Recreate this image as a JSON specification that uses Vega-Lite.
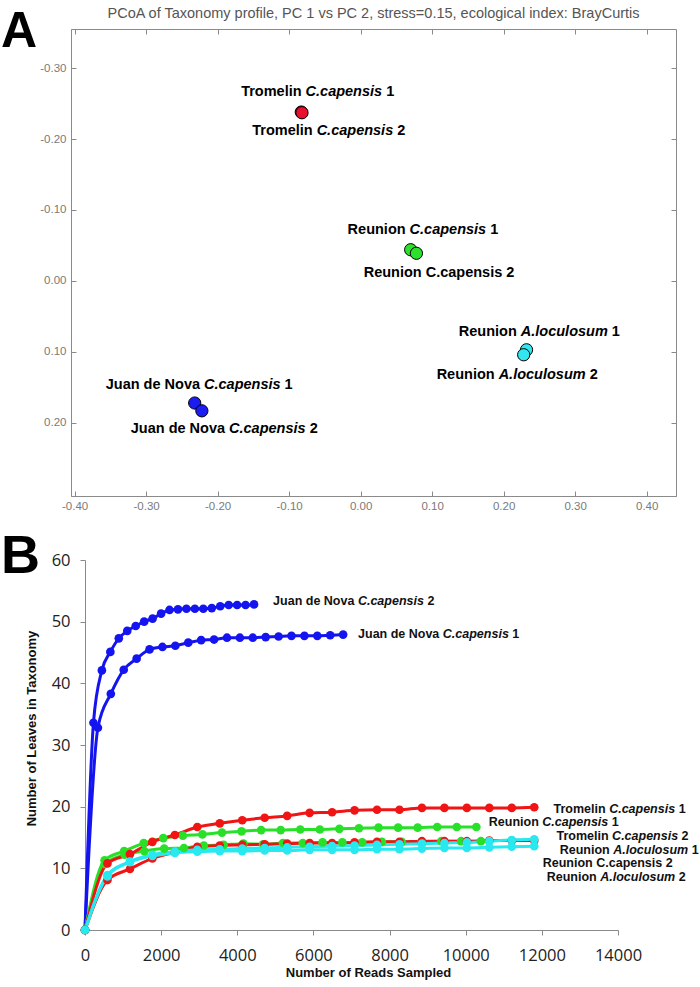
{
  "$schema": "https://vega.github.io/schema/vega-lite/v6.json",
  "padding": {"top": 5, "left": 0, "right": 0, "bottom": 0},
  "spacing": 18,
  "background": "white",
  "config": {"view": {"stroke": null}, "font": "Liberation Sans"},
  "datasets": {
    "pcoa": [
      {"sample": "Tromelin C.capensis 1", "group": "Tromelin C.capensis", "site": "Tromelin", "species": "C.capensis", "rep": "1", "italic": true, "pc1": -0.083, "pc2": -0.238, "label_pc1": -0.077, "label_pc2": -0.266},
      {"sample": "Tromelin C.capensis 2", "group": "Tromelin C.capensis", "site": "Tromelin", "species": "C.capensis", "rep": "2", "italic": true, "pc1": -0.082, "pc2": -0.237, "label_pc1": -0.0615, "label_pc2": -0.211},
      {"sample": "Reunion C.capensis 1", "group": "Reunion C.capensis", "site": "Reunion", "species": "C.capensis", "rep": "1", "italic": true, "pc1": 0.070, "pc2": -0.044, "label_pc1": 0.0685, "label_pc2": -0.072},
      {"sample": "Reunion C.capensis 2", "group": "Reunion C.capensis", "site": "Reunion", "species": "C.capensis", "rep": "2", "italic": false, "pc1": 0.078, "pc2": -0.039, "label_pc1": 0.091, "label_pc2": -0.011},
      {"sample": "Reunion A.loculosum 1", "group": "Reunion A.loculosum", "site": "Reunion", "species": "A.loculosum", "rep": "1", "italic": true, "pc1": 0.232, "pc2": 0.097, "label_pc1": 0.224, "label_pc2": 0.072},
      {"sample": "Reunion A.loculosum 2", "group": "Reunion A.loculosum", "site": "Reunion", "species": "A.loculosum", "rep": "2", "italic": true, "pc1": 0.228, "pc2": 0.104, "label_pc1": 0.193, "label_pc2": 0.132},
      {"sample": "Juan de Nova C.capensis 1", "group": "Juan de Nova C.capensis", "site": "Juan de Nova", "species": "C.capensis", "rep": "1", "italic": true, "pc1": -0.232, "pc2": 0.172, "label_pc1": -0.219, "label_pc2": 0.146},
      {"sample": "Juan de Nova C.capensis 2", "group": "Juan de Nova C.capensis", "site": "Juan de Nova", "species": "C.capensis", "rep": "2", "italic": true, "pc1": -0.222, "pc2": 0.183, "label_pc1": -0.184, "label_pc2": 0.208}
    ],
    "curvelabels": [
      {"series": "J2", "site": "Juan de Nova", "species": "C.capensis", "rep": "2", "italic": true, "label_reads": 7168, "label_leaves": 53.3},
      {"series": "J1", "site": "Juan de Nova", "species": "C.capensis", "rep": "1", "italic": true, "label_reads": 9399, "label_leaves": 48.0},
      {"series": "T1", "site": "Tromelin", "species": "C.capensis", "rep": "1", "italic": true, "label_reads": 13767, "label_leaves": 19.6},
      {"series": "R1", "site": "Reunion", "species": "C.capensis", "rep": "1", "italic": true, "label_reads": 12011, "label_leaves": 17.5},
      {"series": "T2", "site": "Tromelin", "species": "C.capensis", "rep": "2", "italic": true, "label_reads": 13845, "label_leaves": 15.2},
      {"series": "A1", "site": "Reunion", "species": "A.loculosum", "rep": "1", "italic": true, "label_reads": 13874, "label_leaves": 12.9},
      {"series": "R2", "site": "Reunion", "species": "C.capensis", "rep": "2", "italic": false, "label_reads": 13428, "label_leaves": 10.9},
      {"series": "A2", "site": "Reunion", "species": "A.loculosum", "rep": "2", "italic": true, "label_reads": 13533, "label_leaves": 8.6}
    ],
    "curves": [
      {"series": "J2", "reads": 0, "leaves": 0}, {"series": "J2", "reads": 222, "leaves": 33.6}, {"series": "J2", "reads": 444, "leaves": 42.1}, {"series": "J2", "reads": 666, "leaves": 45.1}, {"series": "J2", "reads": 888, "leaves": 47.3}, {"series": "J2", "reads": 1110, "leaves": 48.5}, {"series": "J2", "reads": 1332, "leaves": 49.3}, {"series": "J2", "reads": 1554, "leaves": 50.0}, {"series": "J2", "reads": 1776, "leaves": 50.5}, {"series": "J2", "reads": 1998, "leaves": 51.3}, {"series": "J2", "reads": 2220, "leaves": 51.9}, {"series": "J2", "reads": 2442, "leaves": 52.0}, {"series": "J2", "reads": 2664, "leaves": 52.1}, {"series": "J2", "reads": 2886, "leaves": 52.1}, {"series": "J2", "reads": 3108, "leaves": 52.1}, {"series": "J2", "reads": 3330, "leaves": 52.2}, {"series": "J2", "reads": 3552, "leaves": 52.5}, {"series": "J2", "reads": 3774, "leaves": 52.7}, {"series": "J2", "reads": 3996, "leaves": 52.7}, {"series": "J2", "reads": 4218, "leaves": 52.7}, {"series": "J2", "reads": 4440, "leaves": 52.8},
      {"series": "J1", "reads": 0, "leaves": 0}, {"series": "J1", "reads": 339, "leaves": 32.8}, {"series": "J1", "reads": 678, "leaves": 38.3}, {"series": "J1", "reads": 1017, "leaves": 42.2}, {"series": "J1", "reads": 1356, "leaves": 44.0}, {"series": "J1", "reads": 1695, "leaves": 45.5}, {"series": "J1", "reads": 2034, "leaves": 45.9}, {"series": "J1", "reads": 2373, "leaves": 46.1}, {"series": "J1", "reads": 2712, "leaves": 46.6}, {"series": "J1", "reads": 3051, "leaves": 47.0}, {"series": "J1", "reads": 3390, "leaves": 47.1}, {"series": "J1", "reads": 3729, "leaves": 47.4}, {"series": "J1", "reads": 4068, "leaves": 47.4}, {"series": "J1", "reads": 4407, "leaves": 47.4}, {"series": "J1", "reads": 4746, "leaves": 47.5}, {"series": "J1", "reads": 5085, "leaves": 47.6}, {"series": "J1", "reads": 5424, "leaves": 47.7}, {"series": "J1", "reads": 5763, "leaves": 47.7}, {"series": "J1", "reads": 6102, "leaves": 47.7}, {"series": "J1", "reads": 6441, "leaves": 47.8}, {"series": "J1", "reads": 6780, "leaves": 47.9},
      {"series": "R1", "reads": 0, "leaves": 0}, {"series": "R1", "reads": 514, "leaves": 11.3}, {"series": "R1", "reads": 1028, "leaves": 12.8}, {"series": "R1", "reads": 1542, "leaves": 14.1}, {"series": "R1", "reads": 2056, "leaves": 14.9}, {"series": "R1", "reads": 2570, "leaves": 15.3}, {"series": "R1", "reads": 3084, "leaves": 15.5}, {"series": "R1", "reads": 3598, "leaves": 15.8}, {"series": "R1", "reads": 4112, "leaves": 16.0}, {"series": "R1", "reads": 4626, "leaves": 16.2}, {"series": "R1", "reads": 5140, "leaves": 16.2}, {"series": "R1", "reads": 5654, "leaves": 16.3}, {"series": "R1", "reads": 6168, "leaves": 16.3}, {"series": "R1", "reads": 6682, "leaves": 16.4}, {"series": "R1", "reads": 7196, "leaves": 16.5}, {"series": "R1", "reads": 7710, "leaves": 16.6}, {"series": "R1", "reads": 8224, "leaves": 16.6}, {"series": "R1", "reads": 8738, "leaves": 16.6}, {"series": "R1", "reads": 9252, "leaves": 16.7}, {"series": "R1", "reads": 9766, "leaves": 16.7}, {"series": "R1", "reads": 10280, "leaves": 16.7},
      {"series": "R2", "reads": 0, "leaves": 0}, {"series": "R2", "reads": 520, "leaves": 10.7}, {"series": "R2", "reads": 1040, "leaves": 12.2}, {"series": "R2", "reads": 1560, "leaves": 12.8}, {"series": "R2", "reads": 2080, "leaves": 13.2}, {"series": "R2", "reads": 2600, "leaves": 13.3}, {"series": "R2", "reads": 3120, "leaves": 13.7}, {"series": "R2", "reads": 3640, "leaves": 13.8}, {"series": "R2", "reads": 4160, "leaves": 14.0}, {"series": "R2", "reads": 4680, "leaves": 13.9}, {"series": "R2", "reads": 5200, "leaves": 14.1}, {"series": "R2", "reads": 5720, "leaves": 14.1}, {"series": "R2", "reads": 6240, "leaves": 14.2}, {"series": "R2", "reads": 6760, "leaves": 14.2}, {"series": "R2", "reads": 7280, "leaves": 14.2}, {"series": "R2", "reads": 7800, "leaves": 14.3}, {"series": "R2", "reads": 8320, "leaves": 14.3}, {"series": "R2", "reads": 8840, "leaves": 14.3}, {"series": "R2", "reads": 9360, "leaves": 14.4}, {"series": "R2", "reads": 9880, "leaves": 14.4}, {"series": "R2", "reads": 10400, "leaves": 14.4},
      {"series": "T1", "reads": 0, "leaves": 0}, {"series": "T1", "reads": 590, "leaves": 10.8}, {"series": "T1", "reads": 1180, "leaves": 12.3}, {"series": "T1", "reads": 1770, "leaves": 14.3}, {"series": "T1", "reads": 2360, "leaves": 15.4}, {"series": "T1", "reads": 2950, "leaves": 16.7}, {"series": "T1", "reads": 3540, "leaves": 17.3}, {"series": "T1", "reads": 4130, "leaves": 17.8}, {"series": "T1", "reads": 4720, "leaves": 18.2}, {"series": "T1", "reads": 5310, "leaves": 18.5}, {"series": "T1", "reads": 5900, "leaves": 19.0}, {"series": "T1", "reads": 6490, "leaves": 19.1}, {"series": "T1", "reads": 7080, "leaves": 19.4}, {"series": "T1", "reads": 7670, "leaves": 19.5}, {"series": "T1", "reads": 8260, "leaves": 19.5}, {"series": "T1", "reads": 8850, "leaves": 19.8}, {"series": "T1", "reads": 9440, "leaves": 19.8}, {"series": "T1", "reads": 10030, "leaves": 19.8}, {"series": "T1", "reads": 10620, "leaves": 19.8}, {"series": "T1", "reads": 11210, "leaves": 19.8}, {"series": "T1", "reads": 11800, "leaves": 19.9},
      {"series": "T2", "reads": 0, "leaves": 0}, {"series": "T2", "reads": 590, "leaves": 8.1}, {"series": "T2", "reads": 1180, "leaves": 9.9}, {"series": "T2", "reads": 1770, "leaves": 11.6}, {"series": "T2", "reads": 2360, "leaves": 12.6}, {"series": "T2", "reads": 2950, "leaves": 13.5}, {"series": "T2", "reads": 3540, "leaves": 13.7}, {"series": "T2", "reads": 4130, "leaves": 13.8}, {"series": "T2", "reads": 4720, "leaves": 13.9}, {"series": "T2", "reads": 5310, "leaves": 14.0}, {"series": "T2", "reads": 5900, "leaves": 14.1}, {"series": "T2", "reads": 6490, "leaves": 14.1}, {"series": "T2", "reads": 7080, "leaves": 14.2}, {"series": "T2", "reads": 7670, "leaves": 14.3}, {"series": "T2", "reads": 8260, "leaves": 14.3}, {"series": "T2", "reads": 8850, "leaves": 14.4}, {"series": "T2", "reads": 9440, "leaves": 14.4}, {"series": "T2", "reads": 10030, "leaves": 14.4}, {"series": "T2", "reads": 10620, "leaves": 14.5}, {"series": "T2", "reads": 11210, "leaves": 14.5}, {"series": "T2", "reads": 11800, "leaves": 14.5},
      {"series": "A1", "reads": 0, "leaves": 0}, {"series": "A1", "reads": 590, "leaves": 8.9}, {"series": "A1", "reads": 1180, "leaves": 11.1}, {"series": "A1", "reads": 1770, "leaves": 12.2}, {"series": "A1", "reads": 2360, "leaves": 12.7}, {"series": "A1", "reads": 2950, "leaves": 13.0}, {"series": "A1", "reads": 3540, "leaves": 13.1}, {"series": "A1", "reads": 4130, "leaves": 13.2}, {"series": "A1", "reads": 4720, "leaves": 13.3}, {"series": "A1", "reads": 5310, "leaves": 13.4}, {"series": "A1", "reads": 5900, "leaves": 13.5}, {"series": "A1", "reads": 6490, "leaves": 13.6}, {"series": "A1", "reads": 7080, "leaves": 13.7}, {"series": "A1", "reads": 7670, "leaves": 13.8}, {"series": "A1", "reads": 8260, "leaves": 13.9}, {"series": "A1", "reads": 8850, "leaves": 14.0}, {"series": "A1", "reads": 9440, "leaves": 14.1}, {"series": "A1", "reads": 10030, "leaves": 14.2}, {"series": "A1", "reads": 10620, "leaves": 14.4}, {"series": "A1", "reads": 11210, "leaves": 14.6}, {"series": "A1", "reads": 11800, "leaves": 14.7},
      {"series": "A2", "reads": 0, "leaves": 0}, {"series": "A2", "reads": 590, "leaves": 8.7}, {"series": "A2", "reads": 1180, "leaves": 11.0}, {"series": "A2", "reads": 1770, "leaves": 12.0}, {"series": "A2", "reads": 2360, "leaves": 12.5}, {"series": "A2", "reads": 2950, "leaves": 12.7}, {"series": "A2", "reads": 3540, "leaves": 12.8}, {"series": "A2", "reads": 4130, "leaves": 12.8}, {"series": "A2", "reads": 4720, "leaves": 12.9}, {"series": "A2", "reads": 5310, "leaves": 12.9}, {"series": "A2", "reads": 5900, "leaves": 13.0}, {"series": "A2", "reads": 6490, "leaves": 13.0}, {"series": "A2", "reads": 7080, "leaves": 13.0}, {"series": "A2", "reads": 7670, "leaves": 13.1}, {"series": "A2", "reads": 8260, "leaves": 13.1}, {"series": "A2", "reads": 8850, "leaves": 13.2}, {"series": "A2", "reads": 9440, "leaves": 13.3}, {"series": "A2", "reads": 10030, "leaves": 13.3}, {"series": "A2", "reads": 10620, "leaves": 13.4}, {"series": "A2", "reads": 11210, "leaves": 13.5}, {"series": "A2", "reads": 11800, "leaves": 13.6}
    ]
  },
  "vconcat": [
    {
      "width": 605,
      "height": 467,
      "view": {"stroke": "#8a8a8a", "strokeWidth": 1},
      "data": {"name": "pcoa"},
      "resolve": {"axis": {"x": "independent", "y": "independent"}},
      "layer": [
        {
          "mark": {"type": "point", "filled": true, "size": 150, "stroke": "black", "strokeWidth": 1, "opacity": 1},
          "encoding": {
            "x": {"field": "pc1", "type": "quantitative", "scale": {"domain": [-0.405, 0.441], "nice": false, "zero": false},
                  "axis": {"orient": "bottom", "values": [-0.4, -0.3, -0.2, -0.1, 0, 0.1, 0.2, 0.3, 0.4], "labelExpr": "replace(format(datum.value, '.2f'), '\u2212', '-')", "title": null, "grid": false, "domainColor": "#8a8a8a", "tickColor": "#8a8a8a", "tickSize": -5, "labelPadding": 9, "labelColor": "#7a7a7a", "labelFont": "Liberation Sans", "labelFontSize": 11.5, "labelFlush": false}},
            "y": {"field": "pc2", "type": "quantitative", "scale": {"domain": [-0.355, 0.303], "nice": false, "zero": false, "reverse": true},
                  "axis": {"orient": "left", "values": [-0.3, -0.2, -0.1, 0, 0.1, 0.2], "labelExpr": "replace(format(datum.value, '.2f'), '\u2212', '-')", "title": null, "grid": false, "domainColor": "#8a8a8a", "tickColor": "#8a8a8a", "tickSize": -5, "labelPadding": 10, "labelColor": "#7a7a7a", "labelFont": "Liberation Sans", "labelFontSize": 11.5}},
            "fill": {"field": "group", "type": "nominal", "scale": {"domain": ["Tromelin C.capensis", "Reunion C.capensis", "Reunion A.loculosum", "Juan de Nova C.capensis"], "range": ["#e8102e", "#2ee02e", "#33e5ee", "#1c1cf0"]}, "legend": null}
          }
        },
        {
          "mark": {"type": "point", "opacity": 0},
          "encoding": {
            "x": {"field": "pc1", "type": "quantitative", "scale": {"domain": [-0.405, 0.441], "nice": false, "zero": false},
                  "axis": {"orient": "top", "values": [-0.4, -0.3, -0.2, -0.1, 0, 0.1, 0.2, 0.3, 0.4], "labels": false, "domain": false, "title": null, "grid": false, "tickColor": "#8a8a8a", "tickSize": -5}},
            "y": {"field": "pc2", "type": "quantitative", "scale": {"domain": [-0.355, 0.303], "nice": false, "zero": false, "reverse": true},
                  "axis": {"orient": "right", "values": [-0.3, -0.2, -0.1, 0, 0.1, 0.2], "labels": false, "domain": false, "title": null, "grid": false, "tickColor": "#8a8a8a", "tickSize": -5}}
          }
        },
        {
          "mark": {"type": "text", "align": "right", "baseline": "middle", "dx": -4, "font": "Liberation Sans", "fontSize": 14.5, "fontWeight": "bold", "color": "black"},
          "encoding": {
            "x": {"field": "label_pc1", "type": "quantitative", "scale": {"domain": [-0.405, 0.441], "nice": false, "zero": false}, "axis": null},
            "y": {"field": "label_pc2", "type": "quantitative", "scale": {"domain": [-0.355, 0.303], "nice": false, "zero": false, "reverse": true}, "axis": null},
            "text": {"field": "site"}
          }
        },
        {
          "transform": [{"filter": "datum.italic"}],
          "mark": {"type": "text", "align": "left", "baseline": "middle", "font": "Liberation Sans", "fontSize": 14.5, "fontWeight": "bold", "fontStyle": "italic", "color": "black"},
          "encoding": {
            "x": {"field": "label_pc1", "type": "quantitative", "scale": {"domain": [-0.405, 0.441], "nice": false, "zero": false}, "axis": null},
            "y": {"field": "label_pc2", "type": "quantitative", "scale": {"domain": [-0.355, 0.303], "nice": false, "zero": false, "reverse": true}, "axis": null},
            "text": {"field": "species"}
          }
        },
        {
          "transform": [{"filter": "!datum.italic"}],
          "mark": {"type": "text", "align": "left", "baseline": "middle", "font": "Liberation Sans", "fontSize": 14.5, "fontWeight": "bold", "color": "black"},
          "encoding": {
            "x": {"field": "label_pc1", "type": "quantitative", "scale": {"domain": [-0.405, 0.441], "nice": false, "zero": false}, "axis": null},
            "y": {"field": "label_pc2", "type": "quantitative", "scale": {"domain": [-0.355, 0.303], "nice": false, "zero": false, "reverse": true}, "axis": null},
            "text": {"field": "species"}
          }
        },
        {
          "transform": [{"filter": "datum.species == 'C.capensis'"}],
          "mark": {"type": "text", "align": "left", "baseline": "middle", "dx": 80.6, "font": "Liberation Sans", "fontSize": 14.5, "fontWeight": "bold", "color": "black"},
          "encoding": {
            "x": {"field": "label_pc1", "type": "quantitative", "scale": {"domain": [-0.405, 0.441], "nice": false, "zero": false}, "axis": null},
            "y": {"field": "label_pc2", "type": "quantitative", "scale": {"domain": [-0.355, 0.303], "nice": false, "zero": false, "reverse": true}, "axis": null},
            "text": {"field": "rep"}
          }
        },
        {
          "transform": [{"filter": "datum.species == 'A.loculosum'"}],
          "mark": {"type": "text", "align": "left", "baseline": "middle", "dx": 91.0, "font": "Liberation Sans", "fontSize": 14.5, "fontWeight": "bold", "color": "black"},
          "encoding": {
            "x": {"field": "label_pc1", "type": "quantitative", "scale": {"domain": [-0.405, 0.441], "nice": false, "zero": false}, "axis": null},
            "y": {"field": "label_pc2", "type": "quantitative", "scale": {"domain": [-0.355, 0.303], "nice": false, "zero": false, "reverse": true}, "axis": null},
            "text": {"field": "rep"}
          }
        },
        {
          "data": {"values": [{"heading": "PCoA of Taxonomy profile, PC 1 vs PC 2, stress=0.15, ecological index: BrayCurtis"}]},
          "mark": {"type": "text", "align": "center", "baseline": "middle", "dy": -15, "font": "Liberation Sans", "fontSize": 14.5, "color": "#555555"},
          "encoding": {
            "x": {"datum": 0.018, "type": "quantitative", "scale": {"domain": [-0.405, 0.441], "nice": false, "zero": false}, "axis": null},
            "y": {"datum": -0.355, "type": "quantitative", "scale": {"domain": [-0.355, 0.303], "nice": false, "zero": false, "reverse": true}, "axis": null},
            "text": {"field": "heading"}
          }
        },
        {
          "data": {"values": [{"letter": "A"}]},
          "mark": {"type": "text", "align": "left", "baseline": "alphabetic", "dx": -70, "dy": 18, "font": "Liberation Sans", "fontSize": 50, "fontWeight": "bold", "color": "black"},
          "encoding": {
            "x": {"datum": -0.405, "type": "quantitative", "scale": {"domain": [-0.405, 0.441], "nice": false, "zero": false}, "axis": null},
            "y": {"datum": -0.355, "type": "quantitative", "scale": {"domain": [-0.355, 0.303], "nice": false, "zero": false, "reverse": true}, "axis": null},
            "text": {"field": "letter"}
          }
        }
      ]
    },
    {
      "width": 547,
      "height": 370,
      "view": {"stroke": null},
      "resolve": {"axis": {"x": "independent", "y": "independent"}},
      "layer": [
        {
          "data": {"name": "curves"},
          "mark": {"type": "line", "strokeWidth": 3, "interpolate": "monotone", "point": {"filled": true, "size": 75, "opacity": 1}},
          "encoding": {
            "x": {"field": "reads", "type": "quantitative", "scale": {"domain": [0, 14000], "range": [14, 547], "nice": false},
                  "axis": {"values": [0, 2000, 4000, 6000, 8000, 10000, 12000, 14000], "format": "d", "title": "Number of Reads Sampled", "titleFont": "Liberation Sans", "titleFontSize": 13, "titleFontWeight": "bold", "titleColor": "#111111", "titleX": 297, "titlePadding": 3, "labelFont": "Open Sans", "labelFontSize": 16.5, "labelColor": "#222222", "labelPadding": 12, "tickSize": 5, "tickColor": "#8a8a8a", "domainColor": "#8a8a8a", "grid": false, "labelFlush": false}},
            "y": {"field": "leaves", "type": "quantitative", "scale": {"domain": [0, 60], "nice": false},
                  "axis": {"values": [0, 10, 20, 30, 40, 50, 60], "offset": -14, "title": "Number of Leaves in Taxonomy", "titleFont": "Liberation Sans", "titleFontSize": 13, "titleFontWeight": "bold", "titleColor": "#111111", "titleY": 168, "titlePadding": 13, "labelFont": "Open Sans", "labelFontSize": 16.5, "labelColor": "#222222", "labelPadding": 10, "tickSize": 5, "tickColor": "#8a8a8a", "domainColor": "#8a8a8a", "grid": false}},
            "color": {"field": "series", "type": "nominal", "scale": {"domain": ["J2", "J1", "R1", "R2", "T1", "T2", "A1", "A2"], "range": ["#1414f0", "#1414f0", "#28e028", "#28e028", "#f01414", "#f01414", "#28e8f0", "#28e8f0"]}, "legend": null}
          }
        },
        {
          "data": {"name": "curvelabels"},
          "mark": {"type": "text", "align": "right", "baseline": "middle", "dx": -3.5, "font": "Liberation Sans", "fontSize": 12.5, "fontWeight": "bold", "color": "#111111"},
          "encoding": {
            "x": {"field": "label_reads", "type": "quantitative", "scale": {"domain": [0, 14000], "range": [14, 547], "nice": false}, "axis": null},
            "y": {"field": "label_leaves", "type": "quantitative", "scale": {"domain": [0, 60], "nice": false}, "axis": null},
            "text": {"field": "site"}
          }
        },
        {
          "data": {"name": "curvelabels"},
          "transform": [{"filter": "datum.italic"}],
          "mark": {"type": "text", "align": "left", "baseline": "middle", "font": "Liberation Sans", "fontSize": 12.5, "fontWeight": "bold", "fontStyle": "italic", "color": "#111111"},
          "encoding": {
            "x": {"field": "label_reads", "type": "quantitative", "scale": {"domain": [0, 14000], "range": [14, 547], "nice": false}, "axis": null},
            "y": {"field": "label_leaves", "type": "quantitative", "scale": {"domain": [0, 60], "nice": false}, "axis": null},
            "text": {"field": "species"}
          }
        },
        {
          "data": {"name": "curvelabels"},
          "transform": [{"filter": "!datum.italic"}],
          "mark": {"type": "text", "align": "left", "baseline": "middle", "font": "Liberation Sans", "fontSize": 12.5, "fontWeight": "bold", "color": "#111111"},
          "encoding": {
            "x": {"field": "label_reads", "type": "quantitative", "scale": {"domain": [0, 14000], "range": [14, 547], "nice": false}, "axis": null},
            "y": {"field": "label_leaves", "type": "quantitative", "scale": {"domain": [0, 60], "nice": false}, "axis": null},
            "text": {"field": "species"}
          }
        },
        {
          "data": {"name": "curvelabels"},
          "transform": [{"filter": "datum.species == 'C.capensis'"}],
          "mark": {"type": "text", "align": "left", "baseline": "middle", "dx": 69.5, "font": "Liberation Sans", "fontSize": 12.5, "fontWeight": "bold", "color": "#111111"},
          "encoding": {
            "x": {"field": "label_reads", "type": "quantitative", "scale": {"domain": [0, 14000], "range": [14, 547], "nice": false}, "axis": null},
            "y": {"field": "label_leaves", "type": "quantitative", "scale": {"domain": [0, 60], "nice": false}, "axis": null},
            "text": {"field": "rep"}
          }
        },
        {
          "data": {"name": "curvelabels"},
          "transform": [{"filter": "datum.species == 'A.loculosum'"}],
          "mark": {"type": "text", "align": "left", "baseline": "middle", "dx": 78.5, "font": "Liberation Sans", "fontSize": 12.5, "fontWeight": "bold", "color": "#111111"},
          "encoding": {
            "x": {"field": "label_reads", "type": "quantitative", "scale": {"domain": [0, 14000], "range": [14, 547], "nice": false}, "axis": null},
            "y": {"field": "label_leaves", "type": "quantitative", "scale": {"domain": [0, 60], "nice": false}, "axis": null},
            "text": {"field": "rep"}
          }
        },
        {
          "data": {"values": [{"letter": "B"}]},
          "mark": {"type": "text", "align": "left", "baseline": "top", "dx": -84, "dy": -30, "font": "Liberation Sans", "fontSize": 54, "fontWeight": "bold", "color": "black"},
          "encoding": {
            "x": {"datum": 0, "type": "quantitative", "scale": {"domain": [0, 14000], "range": [14, 547], "nice": false}, "axis": null},
            "y": {"datum": 60, "type": "quantitative", "scale": {"domain": [0, 60], "nice": false}, "axis": null},
            "text": {"field": "letter"}
          }
        }
      ]
    }
  ]
}
